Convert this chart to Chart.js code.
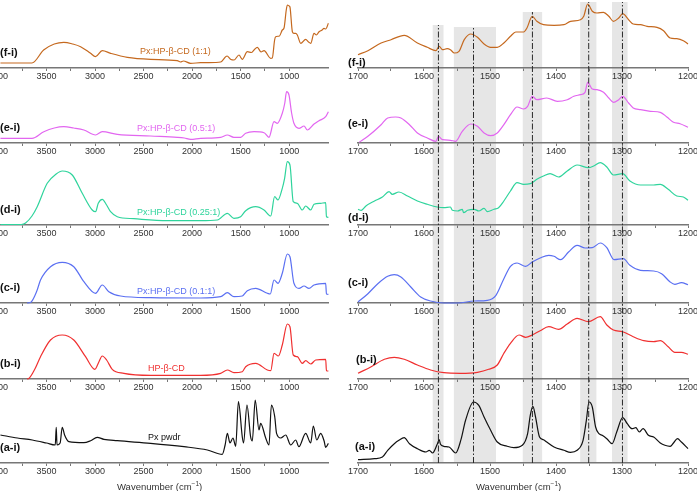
<!DOCTYPE html>
<html>
<head>
<meta charset="utf-8">
<script src="https://cdn.jsdelivr.net/npm/chart.js@4.4.1/dist/chart.umd.min.js"></script>
<style>
  html, body { margin: 0; padding: 0; background: #fff; overflow: hidden; }
  #wrap { position: relative; width: 697px; height: 491px; overflow: hidden; font-family: "Liberation Sans", Arial, sans-serif; }
  #wrap canvas { position: absolute; }
  .lbl { position: absolute; white-space: nowrap; font-size: 9px; line-height: 10px; }
  .tag { font-weight: bold; color: #111; font-size: 11px; line-height: 12px; }
  .title { color: #333; font-size: 9.5px; }
</style>
</head>
<body>
<div id="wrap"></div>
<script>
// ---- full range spectra [wavenumber, absorbance (a.u.)] ----
const fFull = [[3975,5],[3650,5],[3530,18],[3420,24],[3322,25.7],[3230,24],[3149,21.3],[3050,15],[2995,11.3],[2926,17.3],[2840,14.7],[2668,10.7],[2428,8.7],[2153,7.3],[2120,6],[2090,7],[2016,4.7],[1912,5.3],[1760,5.5],[1706,6],[1640,12],[1600,8.5],[1568,8],[1517,13],[1483,8.7],[1431,16.3],[1390,15.5],[1362,18],[1328,20.7],[1290,16],[1259,17.3],[1190,9.7],[1174,10],[1150,28],[1139,31.3],[1100,32],[1071,38],[1053,40],[1030,58],[1019,63],[1000,62],[992,61],[967,36.3],[951,34.7],[933,34.7],[916,33],[881,24.7],[830,28.7],[800,26],[778,24.7],[744,34.7],[720,33],[692,36.3],[660,38],[641,39.7],[624,39],[596,44.7]];
const eFull = [[3975,4.7],[3650,4.7],[3528,11.3],[3420,15],[3322,16.3],[3220,15],[3115,13],[2995,8],[2926,11.3],[2771,8.7],[2428,7],[2153,5.7],[2080,5],[2016,3.7],[1912,4.7],[1706,5.7],[1637,8],[1570,5.7],[1500,5.7],[1448,9.7],[1362,11.3],[1259,10.3],[1208,5.7],[1156,21.3],[1122,19.7],[1071,29.7],[1045,40],[1027,51.3],[1002,48],[975,30],[951,19.7],[899,14.7],[847,17],[813,13],[744,19],[692,22.3],[624,26.3],[596,31.3]];
const dFull = [[3975,0.5],[3760,0.5],[3716,2],[3650,9],[3596,18.3],[3493,41.7],[3400,51],[3338,54],[3235,50],[3132,31.7],[3029,15],[2995,13.3],[2967,21.7],[2926,25.7],[2881,20],[2840,13.3],[2771,8.3],[2600,6.3],[2256,4.3],[1912,4.3],[1740,5],[1637,11.7],[1569,6.7],[1500,8.3],[1448,14.3],[1345,18.3],[1259,15],[1190,9],[1150,28.3],[1115,25],[1071,36.7],[1047,46.7],[1019,63.3],[992,60],[958,23.3],[916,21.7],[865,15],[830,19],[778,15],[744,20.7],[676,21.7],[624,22.3],[616,8.3],[596,7.7]];
const cFull = [[3700,0],[3665,0.5],[3600,12],[3562,23],[3459,36.3],[3338,40.7],[3219,36.3],[3115,21.3],[2995,9.7],[2926,18],[2858,11.3],[2737,7],[2428,5.3],[1912,5],[1706,6.3],[1637,10.3],[1569,6.3],[1483,7],[1431,12.3],[1345,14.7],[1225,9.7],[1195,9],[1156,23],[1115,19.7],[1071,29.7],[1019,49],[992,46.3],[951,19.7],[899,14.7],[847,17],[796,14.7],[744,18],[624,19.7],[616,9],[596,8.7]];
const bFull = [[3700,0],[3682,0.5],[3620,10],[3562,22.3],[3459,39],[3338,44],[3219,39],[3098,22.3],[3002,9.7],[2961,17],[2926,23],[2881,19],[2823,9.7],[2703,5.7],[2428,3.7],[1912,3.7],[1706,5.7],[1637,9],[1569,6.3],[1483,7.3],[1448,12.3],[1345,15.7],[1225,9],[1190,8.3],[1156,25.7],[1111,23],[1071,34],[1019,55],[992,52.3],[958,24],[916,22.3],[865,15.7],[830,18.3],[778,15],[727,19],[624,19.7],[616,8.3],[596,8]];
const aFull = [[3975,28],[3800,25],[3647,23],[3500,20],[3410,18],[3400,35.7],[3392,18],[3360,20],[3338,35.7],[3314,28],[3270,21.3],[3115,20.3],[3046,22.3],[2978,25.7],[2909,23.7],[2771,22.3],[2428,19.7],[2084,16.3],[1843,13],[1689,8.7],[1660,18],[1637,29.7],[1610,20],[1579,25],[1551,16.7],[1523,61.3],[1483,26],[1470,20],[1435,58],[1397,26],[1380,22],[1350,63],[1311,33],[1294,39.7],[1242,25],[1208,18],[1183,58],[1149,46.3],[1130,29.7],[1087,25],[1036,28],[984,18],[933,23],[900,16.3],[830,29.7],[778,20],[751,37],[716,23],[675,29.7],[640,22],[624,15.7],[596,19.7]];

// ---- zoomed spectra 1700-1200 ----
const fZoom = [[1700,13.3],[1685,17.3],[1665,25],[1650,28.3],[1630,32.7],[1610,25],[1595,20.7],[1582,17.3],[1577,21.7],[1572,18.3],[1565,19.3],[1560,18.3],[1554,15],[1547,16.7],[1539,28.3],[1529,34],[1519,30.7],[1509,24],[1499,20.7],[1489,20.7],[1479,25],[1469,31.7],[1461,36],[1449,36],[1444,40],[1436,51.7],[1429,46.7],[1419,43.3],[1403,42.7],[1388,43.3],[1378,46.7],[1363,48.3],[1358,51.7],[1352,64],[1345,56.7],[1338,55],[1328,55.7],[1320,51.7],[1313,46.7],[1305,50],[1299,54.3],[1290,48.3],[1283,44],[1272,43.3],[1262,41.7],[1247,40.7],[1237,37.3],[1227,30],[1217,29.3],[1207,27.3],[1200,24]];
const eZoom = [[1698,0.7],[1685,6.7],[1665,18.3],[1655,25],[1643,26],[1635,25],[1622,18.3],[1610,10],[1595,5],[1582,1.7],[1578,6.7],[1572,3.3],[1560,2.7],[1552,1.7],[1542,11.7],[1529,19],[1519,16.7],[1509,10],[1499,7.3],[1489,10],[1479,18.3],[1469,28.3],[1459,36],[1449,34],[1443,36.7],[1436,46.7],[1429,43.3],[1414,45],[1398,41.7],[1383,43.3],[1373,46.7],[1363,48.3],[1356,50.7],[1352,60.7],[1345,54],[1338,53.3],[1328,50.7],[1320,45],[1313,40.7],[1305,43.3],[1299,46.7],[1290,40],[1283,35],[1272,33.3],[1257,31.7],[1242,30.7],[1232,26],[1222,20.7],[1212,19.3],[1200,15.7]];
const dZoom = [[1700,15.7],[1695,14.7],[1688,19],[1675,24],[1663,28],[1653,33.3],[1648,30.7],[1638,33],[1625,29],[1610,24],[1595,20.7],[1580,18],[1570,17.3],[1560,18],[1557,14.7],[1549,14],[1542,15.7],[1540,12.3],[1534,14.7],[1524,15.7],[1517,14],[1509,16.7],[1504,13.3],[1494,15.7],[1487,17.3],[1479,24],[1469,34],[1459,42.3],[1449,40.7],[1439,41.3],[1429,45.7],[1419,49],[1409,51.3],[1396,48],[1383,54],[1368,60],[1351,57.3],[1343,59],[1333,62.3],[1323,58],[1313,50],[1299,51.3],[1288,44],[1272,40],[1252,40],[1242,40.7],[1230,35.7],[1217,29],[1207,28],[1200,24.7]];
const cZoom = [[1700,1],[1685,9.3],[1670,19.3],[1655,26.7],[1645,28.3],[1635,26],[1620,16],[1605,6],[1590,2],[1570,0],[1549,0],[1524,2],[1504,2.7],[1491,7.7],[1479,24.3],[1469,36.7],[1459,40],[1446,36.7],[1436,41],[1424,45],[1411,47.7],[1403,46.7],[1393,43.3],[1381,51],[1368,57.7],[1356,55],[1345,55.3],[1333,60],[1323,55.3],[1312,43.3],[1298,44.3],[1288,37.7],[1272,32.7],[1252,32],[1240,29.3],[1227,21],[1220,18.7],[1210,20.3],[1200,18.3]];
const bZoom = [[1700,5.7],[1680,12.3],[1660,19.7],[1645,21.7],[1630,19.7],[1610,14],[1590,9],[1570,6.3],[1545,5.7],[1519,6.7],[1502,9.7],[1489,14],[1479,25.7],[1469,35.7],[1456,44],[1446,41.7],[1436,44],[1424,48.3],[1411,52.3],[1396,49.7],[1383,55],[1368,60.7],[1351,57.3],[1333,62.3],[1323,54],[1313,49],[1299,47.3],[1283,42.3],[1267,38.3],[1252,37.3],[1242,38.3],[1230,32.3],[1220,26.7],[1210,26.7],[1200,24.7]];
const aZoom = [[1700,3.3],[1675,4.3],[1663,6],[1655,12.7],[1645,19.3],[1638,22.7],[1630,25.3],[1622,19.3],[1610,14.3],[1597,11],[1592,12.7],[1587,10],[1580,18.7],[1577,23.3],[1575,18.7],[1570,16.7],[1562,16],[1552,10],[1544,23.3],[1537,42.7],[1525,61],[1517,57.7],[1509,46],[1499,32.7],[1489,21],[1474,16.7],[1464,15.3],[1451,17.7],[1443,29.3],[1439,47.7],[1435,56.7],[1431,46],[1425,26],[1419,23.3],[1414,21],[1403,16],[1388,12.7],[1378,10.7],[1368,12.7],[1359,22.7],[1354,42.7],[1350,61],[1345,56],[1340,36],[1335,29.3],[1330,27.7],[1323,24.3],[1315,19.3],[1308,31],[1299,45.3],[1292,39.3],[1285,34.3],[1279,35.3],[1274,31],[1268,34.3],[1260,27.7],[1252,26],[1242,20],[1235,17.7],[1227,16.7],[1222,20],[1216,24.3],[1210,21],[1200,14.3]];

// highlighted bands (wavenumber from, to) and marked peaks
const bandWn = [[1586,1569],[1554,1490],[1450,1420],[1363,1338],[1315,1291]];
const bandTop = [438,436,451,461,461];
const markWn = [1577,1524,1435,1350,1299];

const panelNames = ['(f-i)','(e-i)','(d-i)','(c-i)','(b-i)','(a-i)'];
const sampleNames = ['Px:HP-\u03b2-CD (1:1)','Px:HP-\u03b2-CD (0.5:1)','Px:HP-\u03b2-CD (0.25:1)','Px:HP-\u03b2-CD (0.1:1)','HP-\u03b2-CD','Px pwdr'];
const colors = ['#c5691f','#e266f0','#2fd49c','#5b70f2','#f03030','#111111'];
const fullSets = [fFull, eFull, dFull, cFull, bFull, aFull];
const zoomSets = [fZoom, eZoom, dZoom, cZoom, bZoom, aZoom];

// layout
const axisY = [68, 143, 225, 303, 379, 463];
const PANEL_H = 72;
const FONT = '"Liberation Sans", Arial, sans-serif';
const wrap = document.getElementById('wrap');

function addCanvas(left, top, w, h, z) {
  const c = document.createElement('canvas');
  c.width = w; c.height = h;
  c.style.left = left + 'px'; c.style.top = top + 'px';
  c.style.width = w + 'px'; c.style.height = h + 'px';
  c.style.zIndex = z;
  wrap.appendChild(c);
  return c;
}

function addText(html, cls, left, top, color) {
  const d = document.createElement('div');
  d.className = 'lbl ' + cls;
  d.innerHTML = html;
  d.style.left = left + 'px';
  d.style.top = top + 'px';
  if (color) d.style.color = color;
  d.style.zIndex = 5;
  wrap.appendChild(d);
  return d;
}

function panelChart(canvas, points, color, xMin, xMax, step, labelStep) {
  return new Chart(canvas, {
    type: 'line',
    data: {
      datasets: [{
        data: points.map(p => ({ x: p[0], y: p[1] })),
        borderColor: color,
        borderWidth: 1.2,
        pointRadius: 0,
        cubicInterpolationMode: 'monotone',
        fill: false,
        clip: false
      }]
    },
    options: {
      responsive: false,
      animation: false,
      events: [],
      layout: { padding: { left: 28, right: 20, top: 2, bottom: 0 } },
      plugins: { legend: { display: false }, tooltip: { enabled: false } },
      scales: {
        x: {
          type: 'linear',
          reverse: true,
          min: xMin,
          max: xMax,
          afterBuildTicks: s => { s.ticks = s.ticks.filter(t => t.value % step === 0); },
          afterFit: s => { s.height = 20; s.paddingLeft = 0; s.paddingRight = 0; },
          ticks: {
            stepSize: step,
            autoSkip: false,
            maxRotation: 0,
            padding: 0,
            color: '#333',
            font: { size: 9, family: FONT },
            callback: v => (v % labelStep === 0 ? String(v) : '')
          },
          grid: { drawOnChartArea: false, drawTicks: true, tickLength: 3, color: '#777' },
          border: { display: true, color: '#777', width: 1.5 }
        },
        y: { display: false, min: 0, max: PANEL_H }
      }
    }
  });
}

// shaded bands behind the right column
function overlayChart(canvas, datasets) {
  return new Chart(canvas, {
    type: 'line',
    data: { datasets: datasets },
    options: {
      responsive: false,
      animation: false,
      events: [],
      layout: { padding: { left: 27, right: 20, top: 0, bottom: 28 } },
      plugins: { legend: { display: false }, tooltip: { enabled: false } },
      scales: {
        x: { type: 'linear', reverse: true, min: 1200, max: 1700, display: false },
        y: { min: 0, max: 463, display: false }
      }
    }
  });
}

overlayChart(addCanvas(330, 0, 378, 491, 0), bandWn.map((b, i) => ({
  data: [{ x: b[0], y: bandTop[i] }, { x: b[1], y: bandTop[i] }],
  fill: 'origin',
  backgroundColor: '#e6e6e6',
  borderWidth: 0,
  pointRadius: 0
})));

// dash-dot peak markers above the panels
overlayChart(addCanvas(330, 0, 378, 491, 3), markWn.map(w => {
  const top = Math.min.apply(null, bandTop.filter((t, j) => w <= bandWn[j][0] && w >= bandWn[j][1]));
  return {
    data: [{ x: w, y: 0 }, { x: w, y: top }],
    fill: false,
    borderColor: '#2a2a2a',
    borderWidth: 1,
    borderDash: [6, 2, 1.5, 2],
    pointRadius: 0
  };
}));

// panels
const sampleLabelPos = [[140, 46], [137, 123], [137, 207], [137, 286], [148, 363], [148, 432]];
const rightTagPos = [[348, 56], [348, 117], [348, 211], [348, 276], [356, 353], [355, 440]];
for (let i = 0; i < 6; i++) {
  const top = axisY[i] - PANEL_H - 2;
  panelChart(addCanvas(-30, top, 378, PANEL_H + 22, 2), fullSets[i], colors[i], 600, 4000, 250, 500);
  panelChart(addCanvas(330, top, 378, PANEL_H + 22, 2), zoomSets[i], colors[i], 1200, 1700, 50, 100);
  addText(panelNames[i], 'tag', 0, axisY[i] - 22);
  addText(panelNames[i], 'tag', rightTagPos[i][0], rightTagPos[i][1]);
  addText(sampleNames[i], '', sampleLabelPos[i][0], sampleLabelPos[i][1], colors[i]);
}

addText('Wavenumber (cm<sup style="font-size:6.5px">\u22121</sup>)', 'title', 117, 479);
addText('Wavenumber (cm<sup style="font-size:6.5px">\u22121</sup>)', 'title', 476, 479);
</script>
</body>
</html>
